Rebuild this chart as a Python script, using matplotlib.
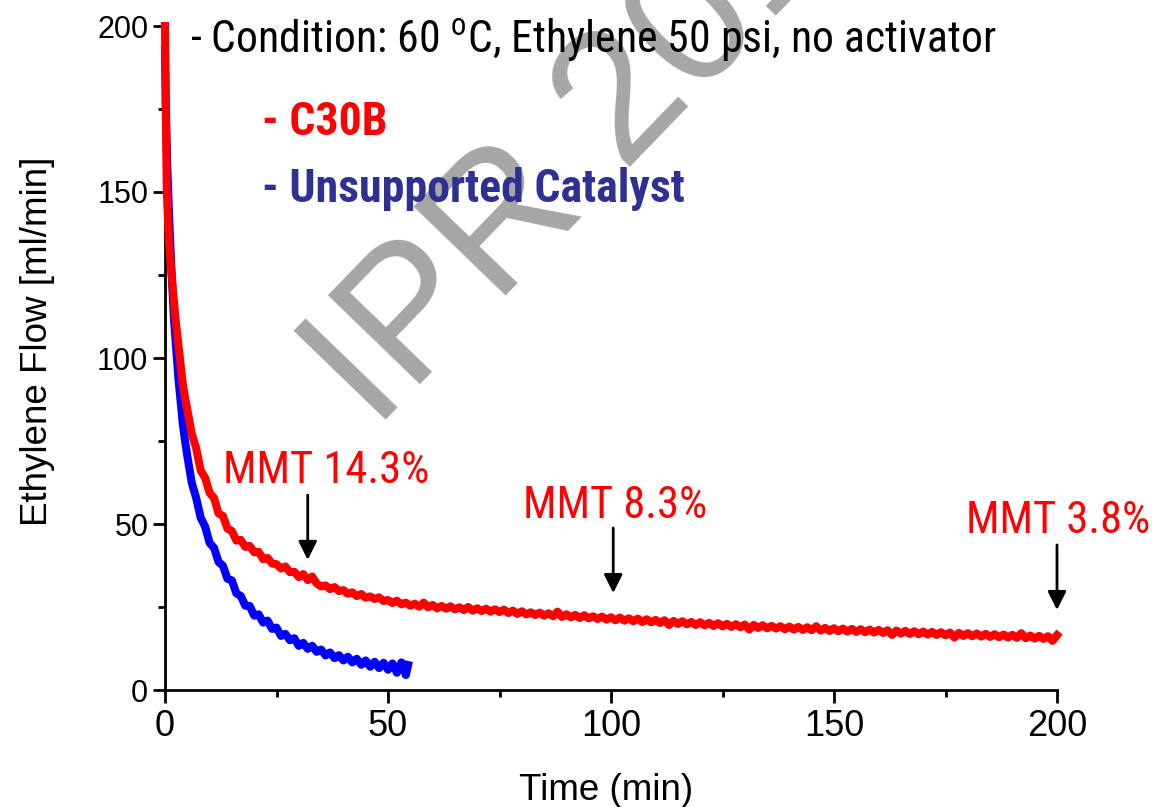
import numpy as np
import matplotlib
matplotlib.use('Agg')
import matplotlib.pyplot as plt
from matplotlib import font_manager

# ---------------- data ----------------
red_time_early = [0, 0.2, 0.4, 0.7, 1, 1.5, 2, 2.5, 3, 3.5, 4, 4.5]
red_flow_early = [200, 172, 151, 140, 133, 125, 117, 110, 104, 98, 92, 88]
red_time_late = list(range(5, 201))
red_flow_late = [
    84.5, 77.2, 72.8, 66.1, 63.9, 59.4, 57.8, 53.2, 52.4, 48.6,
    47.9, 45.0, 45.2, 43.1, 43.4, 41.5, 41.6, 39.4, 39.8, 38.1,
    37.9, 36.6, 37.2, 35.5, 35.6, 34.0, 34.9, 33.1, 34.2, 32.1,
    31.2, 31.5, 30.4, 31.0, 29.8, 30.1, 29.0, 29.4, 28.3, 28.9,
    27.8, 28.2, 27.4, 27.9, 26.8, 27.1, 26.2, 26.9, 25.8, 26.3,
    25.4, 26.0, 25.1, 26.3, 24.9, 25.6, 24.6, 25.3, 24.5, 25.2,
    24.3, 24.9, 24.1, 25.0, 23.9, 24.6, 23.8, 24.5, 23.6, 24.3,
    23.5, 24.2, 23.2, 23.9, 22.9, 23.7, 22.8, 23.4, 22.6, 23.3,
    22.4, 23.1, 22.2, 23.6, 22.0, 22.8, 21.9, 22.6, 21.7, 22.5,
    21.6, 22.2, 21.4, 22.1, 21.2, 21.9, 21.0, 21.8, 20.9, 21.6,
    20.7, 21.5, 20.5, 21.3, 20.4, 21.1, 20.2, 21.0, 19.6, 20.8,
    19.9, 20.7, 19.8, 20.5, 19.6, 20.4, 19.5, 20.2, 19.3, 20.1,
    19.2, 19.9, 19.0, 19.8, 18.9, 19.7, 18.2, 19.6, 18.7, 19.5,
    18.6, 19.3, 18.5, 19.2, 18.3, 19.1, 18.2, 19.0, 18.1, 18.9,
    18.0, 19.2, 17.9, 18.7, 17.8, 18.6, 17.7, 18.5, 17.6, 18.4,
    17.5, 18.3, 17.4, 18.2, 17.3, 18.1, 17.2, 18.0, 16.6, 17.9,
    17.0, 17.8, 16.9, 17.7, 16.8, 17.6, 16.7, 17.5, 16.6, 17.4,
    16.5, 17.3, 15.8, 17.2, 16.3, 17.1, 16.2, 17.0, 16.1, 16.9,
    16.0, 16.8, 15.9, 16.7, 15.8, 16.6, 15.7, 17.1, 15.6, 16.4,
    15.5, 16.3, 15.4, 16.2, 14.8, 16.5,
]

blue_time_early = [0, 0.2, 0.5, 1, 1.5, 2, 2.5, 3, 3.5, 4, 4.5]
blue_flow_early = [193, 175, 158, 140, 125, 112, 103, 94, 87, 80, 75]
blue_time_late = list(range(5, 55)) + [54.5]
blue_flow_late = [
    70.5, 62.4, 57.8, 51.9, 49.2, 44.3, 42.8, 38.6, 37.4, 33.5,
    33.0, 29.1, 28.3, 25.4, 25.3, 22.4, 22.8, 20.3, 20.9, 18.4,
    18.8, 16.3, 16.9, 15.0, 15.6, 13.3, 14.2, 12.4, 13.3, 11.5,
    12.2, 10.4, 11.3, 9.6, 10.5, 8.9, 10.0, 8.3, 9.4, 7.6,
    8.9, 7.0, 8.5, 6.6, 8.2, 6.1, 8.0, 5.2, 8.3, 4.5,
    7.5,
]

x_ticks = [0, 50, 100, 150, 200]
x_minor = [25, 75, 125, 175]
y_ticks = [0, 50, 100, 150, 200]
y_minor = [25, 75, 125, 175]

arrow_time = [32, 100.5, 200]
arrow_tail = [58.7, 48.8, 43.7]
arrow_tip = [39.2, 29.2, 24.1]
arrow_labels = ['MMT 14.3%', 'MMT 8.3%', 'MMT 3.8%']

series_labels = ['- C30B', '- Unsupported Catalyst']
condition_text = r'- Condition: 60 $^{\mathrm{o}}$C, Ethylene 50 psi, no activator'
watermark_text = 'IPR 2010'
x_label = 'Time (min)'
y_label = 'Ethylene Flow [ml/min]'

# ---------------- fonts ----------------
names = {f.name for f in font_manager.fontManager.ttflist}
REG = 'Liberation Sans'
NARROW = 'Roboto Condensed' if 'Roboto Condensed' in names else 'Liberation Sans'
plt.rcParams['font.family'] = [REG, 'DejaVu Sans']
plt.rcParams['mathtext.fontset'] = 'custom'
plt.rcParams['mathtext.rm'] = NARROW
plt.rcParams['mathtext.it'] = NARROW
plt.rcParams['mathtext.bf'] = NARROW + ':bold'

RED = '#ff0000'
BLUE = '#0000ff'
NAVY = '#2e3192'

W, H = 1152, 807
fig = plt.figure(figsize=(W / 100, H / 100), dpi=100)
fig.patch.set_facecolor('white')


def fx(px):
    return px / W


def fy(py):
    return 1 - py / H


ax = fig.add_axes([fx(165), fy(690), (1057 - 165) / W, (690 - 26) / H])
ax.patch.set_alpha(0)

# watermark
ax.text(fx(375), fy(432), watermark_text, transform=fig.transFigure,
        rotation=46, rotation_mode='anchor', ha='left', va='baseline',
        fontsize=133, color='#a6a6a6', family=REG, zorder=0)

# curves
ax.plot(blue_time_early + blue_time_late, blue_flow_early + blue_flow_late,
        color=BLUE, lw=5.8, zorder=3, clip_on=False, solid_joinstyle='round')
ax.plot(red_time_early + red_time_late, red_flow_early + red_flow_late,
        color=RED, lw=5.8, zorder=4, clip_on=False, solid_joinstyle='round')

ax.set_xlim(0, 200)
ax.set_ylim(0, 200)
ax.set_xticks(x_ticks)
ax.set_xticks(x_minor, minor=True)
ax.set_yticks(y_ticks)
ax.set_yticks(y_minor, minor=True)
for s in ['top', 'right']:
    ax.spines[s].set_visible(False)
for s in ['left', 'bottom']:
    ax.spines[s].set_linewidth(2)
ax.tick_params(which='major', direction='out', length=9, width=2)
ax.tick_params(which='minor', direction='out', length=5, width=2)
ax.tick_params(axis='x', which='major', labelsize=26, pad=5)
ax.tick_params(axis='y', which='major', labelsize=22, pad=3)

# axis labels
fig.text(fx(606), fy(800), x_label, ha='center', va='baseline', fontsize=26.5, family=REG)
fig.text(fx(47), fy(341), y_label, rotation=90, rotation_mode='anchor',
         ha='center', va='baseline', fontsize=26.5, family=REG)

# arrows and their labels
for xa, ta, tp in zip(arrow_time, arrow_tail, arrow_tip):
    ax.annotate('', xy=(xa, tp), xytext=(xa, ta),
                arrowprops=dict(arrowstyle='-|>', color='black', lw=2,
                                mutation_scale=28, shrinkA=0, shrinkB=0),
                annotation_clip=False, zorder=5)

label_pos = [(223, 483), (523, 518), (966, 533)]
for lab, (px, py) in zip(arrow_labels, label_pos):
    fig.text(fx(px), fy(py), lab, ha='left', va='baseline', fontsize=32,
             family=NARROW, color=RED)

# header texts
fig.text(fx(190), fy(52), condition_text, ha='left', va='baseline',
         fontsize=31.5, family=NARROW, color='black')
fig.text(fx(262), fy(135), series_labels[0], ha='left', va='baseline',
         fontsize=33, family=NARROW, fontweight='bold', color=RED)
fig.text(fx(262), fy(202), series_labels[1], ha='left', va='baseline',
         fontsize=33, family=NARROW, fontweight='bold', color=NAVY)

fig.savefig('out.png', dpi=100)
